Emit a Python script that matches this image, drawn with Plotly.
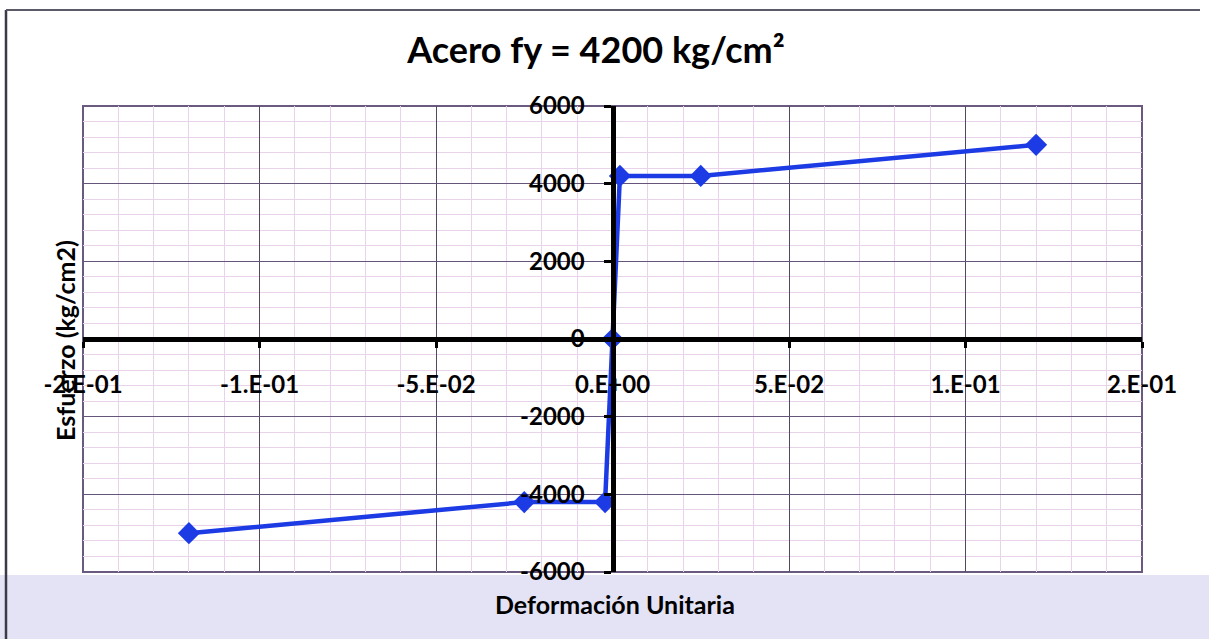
import plotly.graph_objects as go

# Data (strain, stress)
deformacion = [-0.12, -0.025, -0.0021, 0.0, 0.0021, 0.025, 0.12]
esfuerzo = [-5000, -4200, -4200, 0, 4200, 4200, 5000]

x_tickvals = [-0.15, -0.10, -0.05, 0.0, 0.05, 0.10, 0.15]
x_ticktext = ["-2.E-01", "-1.E-01", "-5.E-02", "0.E+00", "5.E-02", "1.E-01", "2.E-01"]
y_tickvals = [-6000, -4000, -2000, 0, 2000, 4000, 6000]
y_ticktext = ["-6000", "-4000", "-2000", "0", "2000", "4000", "6000"]

title_text = "Acero fy = 4200 kg/cm²"
x_title = "Deformación Unitaria"
y_title = "Esfuerzo (kg/cm2)"

FONT = "Lato, 'Open Sans', sans-serif"
BLUE = "#1c3be4"

W, H = 1209, 639
L, R, T, B = 83, 1142, 106, 572
PW, PH = R - L, B - T


def px(xp):
    return (xp - L) / PW


def py(yp):
    return (B - yp) / PH


fig = go.Figure()
fig.add_trace(go.Scatter(
    x=deformacion, y=esfuerzo, mode="lines+markers",
    line=dict(color=BLUE, width=4.5),
    marker=dict(symbol="diamond", size=17, color=BLUE),
    showlegend=False, cliponaxis=False,
))

fig.update_layout(
    width=W, height=H,
    margin=dict(l=L, r=W - R, t=T, b=H - B),
    paper_bgcolor="white", plot_bgcolor="white",
    font=dict(family=FONT, color="black"),
    title=dict(text="<b>" + title_text + "</b>", x=px(605), xanchor="center",
               y=1 - 50 / H, yanchor="middle",
               font=dict(size=36, family=FONT, color="black")),
    xaxis=dict(
        range=[-0.15, 0.15], tickvals=x_tickvals, ticktext=x_ticktext,
        anchor="free", position=0.5,
        showline=True, linecolor="black", linewidth=5,
        ticks="outside", ticklen=6, tickwidth=3, tickcolor="black",
        ticklabelstandoff=16,
        tickfont=dict(size=24, family=FONT, color="black", weight="bold"),
        showgrid=True, gridcolor="#54485c", gridwidth=1.3,
        minor=dict(dtick=0.01, showgrid=True, gridcolor="#e9d3ea", gridwidth=1),
        zeroline=False,
    ),
    yaxis=dict(
        range=[-6000, 6000], tickvals=y_tickvals, ticktext=y_ticktext,
        anchor="free", position=0.5,
        showline=True, linecolor="black", linewidth=5,
        ticks="outside", ticklen=7, tickwidth=3, tickcolor="black",
        ticklabelstandoff=14,
        tickfont=dict(size=24, family=FONT, color="black", weight="bold"),
        showgrid=True, gridcolor="#66557a", gridwidth=1.3,
        minor=dict(dtick=400, showgrid=True, gridcolor="#e9d3ea", gridwidth=1),
        zeroline=False,
    ),
)

# scanned-page tint below the chart
fig.add_shape(type="rect", xref="paper", yref="paper",
              x0=px(0), x1=px(W), y0=py(H), y1=py(B + 3),
              fillcolor="#e3e3f5", line=dict(width=0), layer="below")
# plot area border
fig.add_shape(type="rect", xref="x domain", yref="y domain", x0=0, x1=1, y0=0, y1=1,
              line=dict(color="#6a5a80", width=2), layer="below")
# outer frame (left and top edges)
fig.add_shape(type="line", xref="paper", yref="paper",
              x0=px(6), x1=px(6), y0=py(H), y1=py(10),
              line=dict(color="#3a3a48", width=2.5), layer="below")
fig.add_shape(type="line", xref="paper", yref="paper",
              x0=px(6), x1=px(1200), y0=py(10), y1=py(10),
              line=dict(color="#5a5a68", width=2), layer="below")

fig.add_annotation(text="<b>" + x_title + "</b>", xref="paper", yref="paper",
                   x=px(615), y=py(587), showarrow=False,
                   xanchor="center", yanchor="top",
                   font=dict(size=25, family=FONT, color="black"))
fig.add_annotation(text="<b>" + y_title + "</b>", xref="paper", yref="paper",
                   x=px(65), y=py(341), showarrow=False,
                   textangle=-90, xanchor="center", yanchor="middle",
                   font=dict(size=25, family=FONT, color="black"))

fig.write_html("out.html")
